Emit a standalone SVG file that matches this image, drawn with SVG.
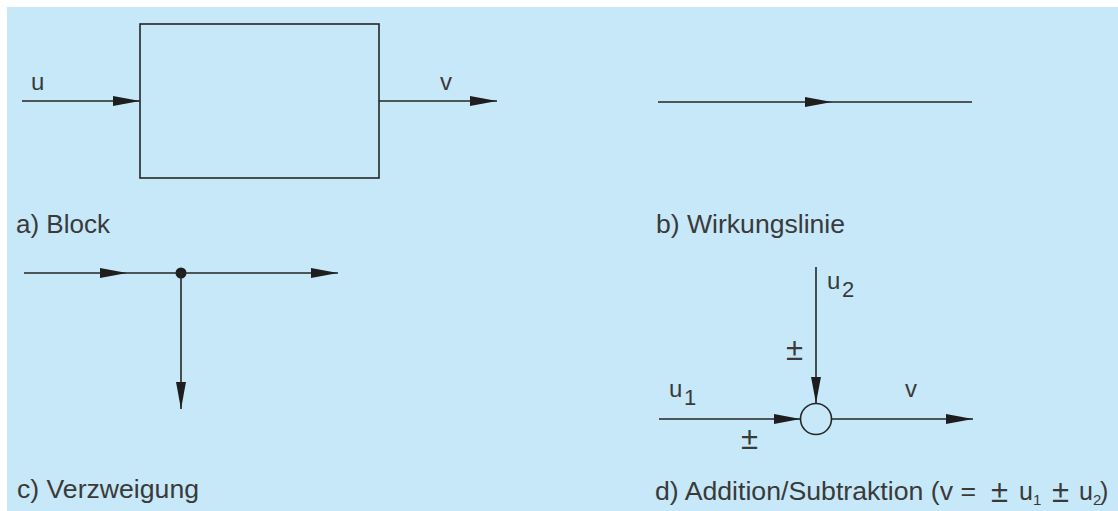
<svg xmlns="http://www.w3.org/2000/svg" width="1118" height="511" viewBox="0 0 1118 511">
<defs>
<style>
.ln{stroke:#262626;stroke-width:1.6;fill:none}
.ar{marker-end:url(#ah)}
.t{font-family:"Liberation Sans",Arial,sans-serif;font-size:25px;fill:#3a3a3a}
.l{font-family:"Liberation Sans",Arial,sans-serif;font-size:24px;fill:#3a3a3a}
.d{font-family:"Liberation Sans",Arial,sans-serif;font-size:22px;fill:#3a3a3a}
.pm{font-family:"Liberation Sans",Arial,sans-serif;font-size:31px;fill:#3a3a3a}
.s{font-family:"Liberation Sans",Arial,sans-serif;font-size:15px;fill:#3a3a3a}
</style>
<marker id="ah" markerUnits="userSpaceOnUse" markerWidth="28" markerHeight="11" refX="27" refY="5.5" orient="auto">
<path d="M0,0.5 L27,5.5 L0,10.5 z" fill="#1e1e1e"/>
</marker>
</defs>
<rect x="0" y="0" width="1118" height="511" fill="#ffffff"/>
<rect x="7" y="7" width="1111" height="504" fill="#c6e8f8"/>

<g id="block">
<rect x="140" y="24" width="239" height="154" class="ln"/>
<text class="l" x="31" y="90">u</text>
<text class="l" x="440" y="90">v</text>
<text class="t" x="16" y="233" textLength="94" lengthAdjust="spacingAndGlyphs">a) Block</text>
</g>

<g id="wirkungslinie">
<text class="t" x="656" y="233" textLength="189" lengthAdjust="spacingAndGlyphs">b) Wirkungslinie</text>
</g>

<g id="verzweigung">
<circle cx="181" cy="273" r="5.5" fill="#1e1e1e"/>
<text class="t" x="17" y="498" textLength="182" lengthAdjust="spacingAndGlyphs">c) Verzweigung</text>
</g>

<g id="summe">
<circle cx="816" cy="419" r="15.5" class="ln"/>
<text class="l" x="827" y="289">u</text>
<text class="d" x="842" y="297">2</text>
<text class="pm" x="786" y="360">±</text>
<text class="l" x="669" y="397">u</text>
<text class="d" x="684" y="405">1</text>
<text class="l" x="905" y="397">v</text>
<text class="pm" x="741" y="449">±</text>
<text class="t" x="655" y="500" textLength="321" lengthAdjust="spacingAndGlyphs">d) Addition/Subtraktion (v =</text>
<text class="pm" x="991" y="502">±</text>
<text class="t" x="1019" y="500">u</text>
<text class="s" x="1033" y="505">1</text>
<text class="pm" x="1052" y="502">±</text>
<text class="t" x="1079" y="500">u</text>
<text class="s" x="1093" y="505">2</text>
<text class="t" x="1100" y="500">)</text>
</g>

<g id="connectors">
<line x1="22" y1="101" x2="140" y2="101" class="ln ar"/>
<line x1="379" y1="101" x2="497" y2="101" class="ln ar"/>
<line x1="658" y1="102" x2="832" y2="102" class="ln ar"/>
<line x1="832" y1="102" x2="972" y2="102" class="ln"/>
<line x1="24" y1="273" x2="127" y2="273" class="ln ar"/>
<line x1="127" y1="273" x2="338" y2="273" class="ln ar"/>
<line x1="181" y1="273" x2="181" y2="409" class="ln ar"/>
<line x1="816" y1="267" x2="816" y2="403.5" class="ln ar"/>
<line x1="659" y1="419" x2="800.5" y2="419" class="ln ar"/>
<line x1="831.5" y1="419" x2="973" y2="419" class="ln ar"/>
</g>
</svg>
